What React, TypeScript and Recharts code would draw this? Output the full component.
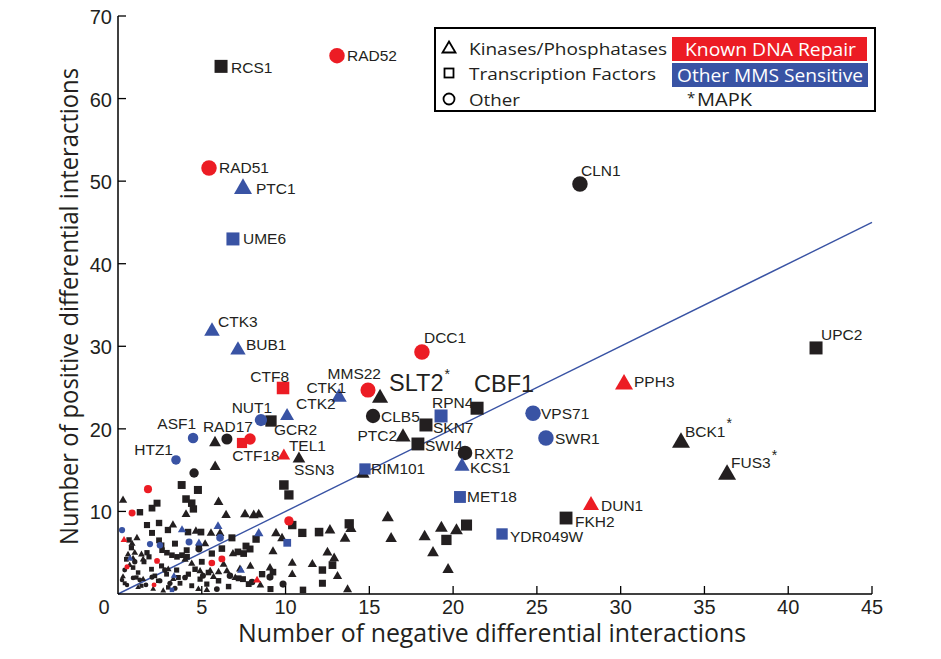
import React from 'react';
import { ScatterChart, Scatter, XAxis, YAxis, ReferenceLine, Customized } from 'recharts';

const RED = '#ec1c24';
const BLUE = '#3953a4';
const BLACK = '#231f20';
const LABEL_FONT = '"Liberation Sans", Arial, Helvetica, sans-serif';
const TITLE_FONT = '"Open Sans", "Liberation Sans", sans-serif';

type Pt = { x: number; y: number; name?: string };

const xTicks = [0, 5, 10, 15, 20, 25, 30, 35, 40, 45];
const yTicks = [0, 10, 20, 30, 40, 50, 60, 70];
const diagonal = [{ x: 0, y: 0 }, { x: 45, y: 45 }];

// Kinases / Phosphatases — other (black triangles)
const kinasesOther: Pt[] = [
  { x: 15.64, y: 24.0, name: 'SLT2' }, { x: 17.01, y: 19.26, name: 'PTC2' },
  { x: 33.6, y: 18.65, name: 'BCK1' }, { x: 36.35, y: 14.78, name: 'FUS3' },
  { x: 10.8, y: 16.6, name: 'SSN3' },
  { x: 5.79, y: 18.53 }, { x: 14.62, y: 14.78 }, { x: 5.8, y: 15.6 }, { x: 0.3, y: 11.5 },
  { x: 6.0, y: 11.3 }, { x: 6.45, y: 9.7 }, { x: 4.06, y: 9.8 }, { x: 7.58, y: 9.8 },
  { x: 8.1, y: 9.7 }, { x: 8.4, y: 9.8 }, { x: 3.28, y: 8.5 }, { x: 4.65, y: 7.75 },
  { x: 5.55, y: 7.5 }, { x: 6.09, y: 7.5 }, { x: 9.43, y: 7.5 }, { x: 9.79, y: 6.9 },
  { x: 9.25, y: 5.3 }, { x: 6.86, y: 5.0 }, { x: 6.5, y: 2.9 }, { x: 7.28, y: 3.15 },
  { x: 9.07, y: 3.3 }, { x: 10.4, y: 3.9 }, { x: 10.4, y: 2.5 }, { x: 5.3, y: 0.6 },
  { x: 4.9, y: 2.9 }, { x: 5.5, y: 2.9 }, { x: 6.0, y: 2.8 }, { x: 12.65, y: 7.9 },
  { x: 13.55, y: 6.9 }, { x: 13.9, y: 8.1 }, { x: 16.1, y: 9.45 }, { x: 16.3, y: 6.9 },
  { x: 18.3, y: 7.15 }, { x: 19.3, y: 8.2 }, { x: 20.2, y: 7.9 }, { x: 18.8, y: 5.2 },
  { x: 19.7, y: 3.15 }, { x: 12.5, y: 5.2 }, { x: 12.9, y: 4.5 }, { x: 11.6, y: 3.75 },
  { x: 13.1, y: 2.3 }, { x: 13.7, y: 0.7 }, { x: 1.13, y: 6.9 }, { x: 0.84, y: 6.2 },
  { x: 5.2, y: 6.2 }, { x: 1.0, y: 5.1 }, { x: 1.4, y: 4.9 }, { x: 0.9, y: 4.4 },
  { x: 1.5, y: 4.3 }, { x: 0.3, y: 2.2 }, { x: 0.7, y: 3.6 }, { x: 1.5, y: 1.9 },
  { x: 2.7, y: 0.5 }, { x: 3.3, y: 1.9 }, { x: 4.0, y: 4.3 }, { x: 4.8, y: 0.7 },
  { x: 5.7, y: 2.2 }, { x: 6.3, y: 3.7 }, { x: 7.0, y: 2.1 }, { x: 7.9, y: 3.5 },
  { x: 8.5, y: 1.2 }, { x: 1.2, y: 0.9 }, { x: 2.1, y: 0.7 }, { x: 0.6, y: 4.9 },
  { x: 3.0, y: 3.1 }, { x: 4.4, y: 3.8 },
];

// Transcription factors — other (black squares)
const tfOther: Pt[] = [
  { x: 6.15, y: 63.9, name: 'RCS1' }, { x: 41.66, y: 29.8, name: 'UPC2' },
  { x: 21.43, y: 22.5, name: 'CBF1' }, { x: 9.13, y: 20.95, name: 'GCR2' },
  { x: 18.38, y: 20.47, name: 'SKN7' }, { x: 17.9, y: 18.17, name: 'SWI4' },
  { x: 26.74, y: 9.2, name: 'FKH2' },
  { x: 3.8, y: 13.2 }, { x: 4.77, y: 12.6 }, { x: 9.9, y: 13.2 }, { x: 10.2, y: 12.0 },
  { x: 2.33, y: 11.0 }, { x: 2.03, y: 10.4 }, { x: 4.06, y: 11.5 }, { x: 4.4, y: 11.0 },
  { x: 4.5, y: 10.3 }, { x: 1.31, y: 9.9 }, { x: 2.45, y: 8.6 }, { x: 10.4, y: 8.35 },
  { x: 11.0, y: 7.4 }, { x: 7.64, y: 5.8 }, { x: 8.24, y: 6.65 }, { x: 6.8, y: 6.8 },
  { x: 7.16, y: 5.1 }, { x: 7.88, y: 5.45 }, { x: 7.5, y: 4.9 }, { x: 9.25, y: 2.65 },
  { x: 7.46, y: 1.8 }, { x: 11.04, y: 0.5 }, { x: 12.0, y: 7.5 }, { x: 13.8, y: 8.5 },
  { x: 20.8, y: 8.35 }, { x: 19.6, y: 6.55 }, { x: 12.2, y: 2.9 }, { x: 12.8, y: 3.5 },
  { x: 12.2, y: 1.3 }, { x: 1.73, y: 8.35 }, { x: 2.98, y: 7.75 }, { x: 2.03, y: 7.4 },
  { x: 0.66, y: 6.55 }, { x: 4.18, y: 7.5 }, { x: 4.95, y: 7.5 }, { x: 2.45, y: 6.5 },
  { x: 2.63, y: 5.3 }, { x: 2.92, y: 5.0 }, { x: 3.22, y: 4.7 }, { x: 3.52, y: 4.5 },
  { x: 3.82, y: 4.7 }, { x: 4.12, y: 4.5 }, { x: 1.73, y: 5.0 }, { x: 1.85, y: 4.5 },
  { x: 1.55, y: 3.9 }, { x: 4.83, y: 5.6 }, { x: 0.5, y: 4.2 }, { x: 0.9, y: 3.2 },
  { x: 1.2, y: 2.6 }, { x: 2.0, y: 3.0 }, { x: 2.6, y: 3.4 }, { x: 2.9, y: 2.4 },
  { x: 3.5, y: 2.9 }, { x: 4.2, y: 2.4 }, { x: 4.6, y: 3.0 }, { x: 5.0, y: 3.9 },
  { x: 5.4, y: 2.6 }, { x: 0.4, y: 1.3 }, { x: 1.4, y: 1.0 }, { x: 2.4, y: 1.6 },
  { x: 3.0, y: 0.8 }, { x: 3.7, y: 1.3 }, { x: 4.4, y: 1.0 }, { x: 4.9, y: 1.8 },
  { x: 5.3, y: 1.2 }, { x: 6.0, y: 1.6 }, { x: 6.6, y: 0.9 }, { x: 7.2, y: 1.9 },
  { x: 7.8, y: 1.2 }, { x: 8.6, y: 2.4 }, { x: 9.1, y: 0.6 }, { x: 2.6, y: 5.9 },
  { x: 3.4, y: 6.1 }, { x: 4.1, y: 5.3 }, { x: 5.6, y: 4.9 }, { x: 6.2, y: 5.5 },
  { x: 0.8, y: 5.6 }, { x: 1.1, y: 2.0 }, { x: 2.2, y: 2.2 }, { x: 3.6, y: 2.0 },
];

// Other genes (black circles)
const otherOther: Pt[] = [
  { x: 27.57, y: 49.65, name: 'CLN1' }, { x: 15.22, y: 21.56, name: 'CLB5' },
  { x: 20.71, y: 17.08, name: 'RXT2' }, { x: 6.5, y: 18.77, name: 'RAD17' },
  { x: 4.54, y: 14.65 }, { x: 4.83, y: 5.45 }, { x: 6.68, y: 2.2 }, { x: 8.0, y: 1.45 },
  { x: 9.07, y: 2.05 }, { x: 9.85, y: 1.2 }, { x: 5.07, y: 2.2 }, { x: 0.24, y: 1.7 },
  { x: 0.54, y: 1.1 }, { x: 0.9, y: 1.95 }, { x: 1.3, y: 1.7 }, { x: 1.67, y: 1.1 },
  { x: 2.03, y: 2.05 }, { x: 2.5, y: 1.6 }, { x: 3.1, y: 1.3 }, { x: 3.4, y: 0.7 },
  { x: 0.4, y: 2.9 }, { x: 1.0, y: 3.9 }, { x: 2.8, y: 2.9 }, { x: 4.0, y: 2.0 },
  { x: 5.9, y: 0.6 },
];

// Known DNA repair (red)
const otherRepair: Pt[] = [
  { x: 13.07, y: 65.2, name: 'RAD52' }, { x: 5.43, y: 51.6, name: 'RAD51' },
  { x: 18.14, y: 29.3, name: 'DCC1' }, { x: 14.92, y: 24.7, name: 'MMS22' },
  { x: 7.88, y: 18.77 }, { x: 1.79, y: 12.7 }, { x: 0.84, y: 9.8 }, { x: 10.2, y: 8.85 },
  { x: 5.6, y: 3.75 }, { x: 6.2, y: 4.25 }, { x: 2.33, y: 4.0 }, { x: 0.54, y: 3.3 },
  { x: 2.15, y: 1.1 },
];
const kinasesRepair: Pt[] = [
  { x: 30.2, y: 25.7, name: 'PPH3' }, { x: 28.23, y: 11.02, name: 'DUN1' },
  { x: 9.9, y: 16.96, name: 'TEL1' }, { x: 0.36, y: 6.65 }, { x: 8.3, y: 1.8 },
];
const tfRepair: Pt[] = [
  { x: 9.85, y: 24.95, name: 'CTF8' }, { x: 7.4, y: 18.29, name: 'CTF18' },
];

// Other MMS sensitive (blue)
const otherMMS: Pt[] = [
  { x: 8.53, y: 21.07, name: 'NUT1' }, { x: 24.77, y: 21.9, name: 'VPS71' },
  { x: 25.54, y: 18.9, name: 'SWR1' }, { x: 4.48, y: 18.9, name: 'ASF1' },
  { x: 3.46, y: 16.23, name: 'HTZ1' },
  { x: 0.24, y: 7.75 }, { x: 6.09, y: 6.8 }, { x: 1.91, y: 6.05 }, { x: 2.5, y: 5.9 },
  { x: 4.24, y: 6.3 },
];
const kinasesMMS: Pt[] = [
  { x: 7.46, y: 49.4, name: 'PTC1' }, { x: 5.61, y: 32.1, name: 'CTK3' },
  { x: 7.16, y: 29.8, name: 'BUB1' }, { x: 13.19, y: 24.1, name: 'CTK1' },
  { x: 10.09, y: 21.8, name: 'CTK2' }, { x: 20.53, y: 15.74, name: 'KCS1' },
  { x: 3.82, y: 7.9 }, { x: 5.97, y: 8.35 }, { x: 8.4, y: 7.5 }, { x: 4.83, y: 6.3 },
  { x: 7.34, y: 3.0 }, { x: 3.34, y: 2.3 }, { x: 0.72, y: 4.4 },
];
const tfMMS: Pt[] = [
  { x: 6.86, y: 43.0, name: 'UME6' }, { x: 19.28, y: 21.56, name: 'RPN4' },
  { x: 14.74, y: 15.14, name: 'RIM101' }, { x: 20.41, y: 11.75, name: 'MET18' },
  { x: 22.92, y: 7.27, name: 'YDR049W' }, { x: 10.1, y: 6.2 }, { x: 3.22, y: 0.5 },
];

type Anchor = 'start' | 'middle' | 'end';
type LabelStyle = { dx: number; dy: number; anchor?: Anchor; big?: boolean; star?: boolean };
const labelLayout: Record<string, LabelStyle> = {
  RCS1: { dx: 10, dy: 1 }, RAD52: { dx: 10, dy: 0 }, RAD51: { dx: 10, dy: 0 },
  PTC1: { dx: 13, dy: 2 }, UME6: { dx: 10, dy: 0 }, CLN1: { dx: 1, dy: -14 },
  CTK3: { dx: 6, dy: -7 }, BUB1: { dx: 8, dy: -3 }, DCC1: { dx: 2, dy: -15 },
  UPC2: { dx: 5, dy: -13 }, CTF8: { dx: 6, dy: -11, anchor: 'end' },
  MMS22: { dx: 13, dy: -17, anchor: 'end' }, SLT2: { dx: 9, dy: -13, big: true, star: true },
  CBF1: { dx: -3, dy: -24, big: true }, CTK1: { dx: 7, dy: -8, anchor: 'end' },
  CTK2: { dx: 9, dy: -10 }, NUT1: { dx: -9, dy: -13, anchor: 'middle' },
  GCR2: { dx: 3, dy: 8 }, RPN4: { dx: -9, dy: -13 }, VPS71: { dx: 8, dy: 0 },
  PPH3: { dx: 10, dy: 0 }, CLB5: { dx: 8, dy: 1 }, SKN7: { dx: 7, dy: 3 },
  PTC2: { dx: -6, dy: 1, anchor: 'end' }, SWI4: { dx: 7, dy: 2 }, SWR1: { dx: 9, dy: 1 },
  BCK1: { dx: 4, dy: -9, star: true }, RXT2: { dx: 9, dy: 1 }, KCS1: { dx: 8, dy: 3 },
  FUS3: { dx: 4, dy: -9, star: true }, RIM101: { dx: 6, dy: 0 }, MET18: { dx: 7, dy: 0 },
  DUN1: { dx: 10, dy: 2 }, FKH2: { dx: 9, dy: 3 }, YDR049W: { dx: 8, dy: 3 },
  ASF1: { dx: 3, dy: -14, anchor: 'end' }, HTZ1: { dx: -3, dy: -10, anchor: 'end' },
  RAD17: { dx: 1, dy: -13, anchor: 'middle' }, CTF18: { dx: 14, dy: 13, anchor: 'middle' },
  TEL1: { dx: 5, dy: -8 }, SSN3: { dx: -5, dy: 13 },
};

type Kind = 'tri' | 'sq' | 'circ';

function marker(kind: Kind, color: string, cx: number, cy: number, total: number) {
  if (kind === 'circ') {
    const d = Math.min(15.5, 4 + 0.28 * total);
    return <circle cx={cx} cy={cy} r={d / 2} fill={color} />;
  }
  if (kind === 'sq') {
    const s = Math.min(13, 3.5 + 0.26 * total);
    return <rect x={cx - s / 2} y={cy - s / 2} width={s} height={s} fill={color} />;
  }
  const w = Math.min(18, 5 + 0.28 * total);
  const h = w * 0.87;
  return (
    <polygon
      points={`${cx},${cy - h / 2} ${cx + w / 2},${cy + h / 2} ${cx - w / 2},${cy + h / 2}`}
      fill={color}
    />
  );
}

function makeShape(kind: Kind, color: string) {
  return (props: any) => {
    const { cx, cy, payload } = props;
    if (cx == null || cy == null) return <g />;
    const total = payload.x + payload.y;
    const name: string | undefined = payload.name;
    const lab = name ? labelLayout[name] : undefined;
    return (
      <g>
        {marker(kind, color, cx, cy, total)}
        {name && lab && (
          <text
            x={cx + lab.dx}
            y={cy + lab.dy}
            textAnchor={lab.anchor ?? 'start'}
            dominantBaseline="central"
            fontFamily={LABEL_FONT}
            fontSize={lab.big ? 23.5 : 15.5}
            fill={BLACK}
          >
            {name}
            {lab.star && (
              <tspan dx={1} dy={lab.big ? -9 : -8} fontSize={14}>*</tspan>
            )}
          </text>
        )}
      </g>
    );
  };
}

const XTick = (props: any) => {
  const { x, y, payload } = props;
  const v = payload.value;
  return (
    <g>
      {v !== 0 && <line x1={x} x2={x} y1={y} y2={y - 8} stroke="#000" strokeWidth={1.3} />}
      <text
        x={v === 0 ? x - 14 : x}
        y={y + 13}
        textAnchor="middle"
        dominantBaseline="central"
        fontFamily={LABEL_FONT}
        fontSize={20}
        fill={BLACK}
      >
        {v}
      </text>
    </g>
  );
};

const YTick = (props: any) => {
  const { x, y, payload } = props;
  const v = payload.value;
  if (v === 0) return <g />;
  return (
    <g>
      <line x1={x} x2={x + 8} y1={y} y2={y} stroke="#000" strokeWidth={1.3} />
      <text
        x={x - 6}
        y={y + 1}
        textAnchor="end"
        dominantBaseline="central"
        fontFamily={LABEL_FONT}
        fontSize={20}
        fill={BLACK}
      >
        {v}
      </text>
    </g>
  );
};

const Overlay = () => (
  <g>
    <text
      x={492}
      y={642}
      textAnchor="middle"
      fontFamily={TITLE_FONT}
      fontSize={25}
      fill={BLACK}
      textLength={508}
      lengthAdjust="spacingAndGlyphs"
    >
      Number of negative differential interactions
    </text>
    <text
      transform="translate(78,306.5) rotate(-90)"
      textAnchor="middle"
      fontFamily={TITLE_FONT}
      fontSize={25}
      fill={BLACK}
      textLength={477}
      lengthAdjust="spacingAndGlyphs"
    >
      Number of positive differential interactions
    </text>
    <rect x={435} y={28} width={440} height={83} fill="#fff" stroke="#000" strokeWidth={2} />
    <polygon points="449,41.5 455.5,52.5 442.5,52.5" fill="none" stroke="#000" strokeWidth={1.8} />
    <rect x={444.5} y={68.5} width={9} height={9} fill="none" stroke="#000" strokeWidth={1.8} />
    <circle cx={449} cy={99} r={5.5} fill="none" stroke="#000" strokeWidth={1.8} />
    <text x={469} y={48} dominantBaseline="central" fontFamily={TITLE_FONT} fontSize={17} fill={BLACK}
      textLength={198} lengthAdjust="spacingAndGlyphs">Kinases/Phosphatases</text>
    <text x={469} y={73} dominantBaseline="central" fontFamily={TITLE_FONT} fontSize={17} fill={BLACK}
      textLength={187} lengthAdjust="spacingAndGlyphs">Transcription Factors</text>
    <text x={469} y={99} dominantBaseline="central" fontFamily={TITLE_FONT} fontSize={17} fill={BLACK}
      textLength={51} lengthAdjust="spacingAndGlyphs">Other</text>
    <rect x={672} y={37} width={195} height={24} fill={RED} />
    <text x={685} y={49} dominantBaseline="central" fontFamily={TITLE_FONT} fontSize={17.5} fill="#fff"
      textLength={171} lengthAdjust="spacingAndGlyphs">Known DNA Repair</text>
    <rect x={672} y={63} width={196} height={24} fill={BLUE} />
    <text x={677} y={75} dominantBaseline="central" fontFamily={TITLE_FONT} fontSize={17.5} fill="#fff"
      textLength={186} lengthAdjust="spacingAndGlyphs">Other MMS Sensitive</text>
    <text x={687} y={97} dominantBaseline="central" fontFamily={TITLE_FONT} fontSize={15} fill={BLACK}>*</text>
    <text x={697} y={99} dominantBaseline="central" fontFamily={TITLE_FONT} fontSize={17.5} fill={BLACK}
      textLength={55} lengthAdjust="spacingAndGlyphs">MAPK</text>
  </g>
);

const series: { data: Pt[]; kind: Kind; color: string; key: string }[] = [
  { data: tfOther, kind: 'sq', color: BLACK, key: 'tfOther' },
  { data: kinasesOther, kind: 'tri', color: BLACK, key: 'kinasesOther' },
  { data: otherOther, kind: 'circ', color: BLACK, key: 'otherOther' },
  { data: tfMMS, kind: 'sq', color: BLUE, key: 'tfMMS' },
  { data: kinasesMMS, kind: 'tri', color: BLUE, key: 'kinasesMMS' },
  { data: otherMMS, kind: 'circ', color: BLUE, key: 'otherMMS' },
  { data: tfRepair, kind: 'sq', color: RED, key: 'tfRepair' },
  { data: kinasesRepair, kind: 'tri', color: RED, key: 'kinasesRepair' },
  { data: otherRepair, kind: 'circ', color: RED, key: 'otherRepair' },
];

export default function App() {
  return (
    <div style={{ position: 'absolute', left: 0, top: 0, width: 941, height: 659, background: '#fff' }}>
      <ScatterChart width={941} height={659} margin={{ top: 16, right: 69, bottom: 35, left: 58 }}>
        <XAxis
          type="number"
          dataKey="x"
          domain={[0, 45]}
          ticks={xTicks}
          interval={0}
          height={30}
          tickSize={0}
          tickMargin={0}
          tickLine={false}
          axisLine={{ stroke: '#000', strokeWidth: 1.5 }}
          tick={XTick}
          allowDataOverflow
        />
        <YAxis
          type="number"
          dataKey="y"
          domain={[0, 70]}
          ticks={yTicks}
          interval={0}
          width={60}
          tickSize={0}
          tickMargin={0}
          tickLine={false}
          axisLine={{ stroke: '#000', strokeWidth: 1.5 }}
          tick={YTick}
          allowDataOverflow
        />
        <ReferenceLine segment={diagonal} stroke={BLUE} strokeWidth={1.4} ifOverflow="visible" />
        {series.map((s) => (
          <Scatter
            key={s.key}
            name={s.key}
            data={s.data}
            shape={makeShape(s.kind, s.color)}
            isAnimationActive={false}
          />
        ))}
        <Customized component={Overlay} />
      </ScatterChart>
    </div>
  );
}
